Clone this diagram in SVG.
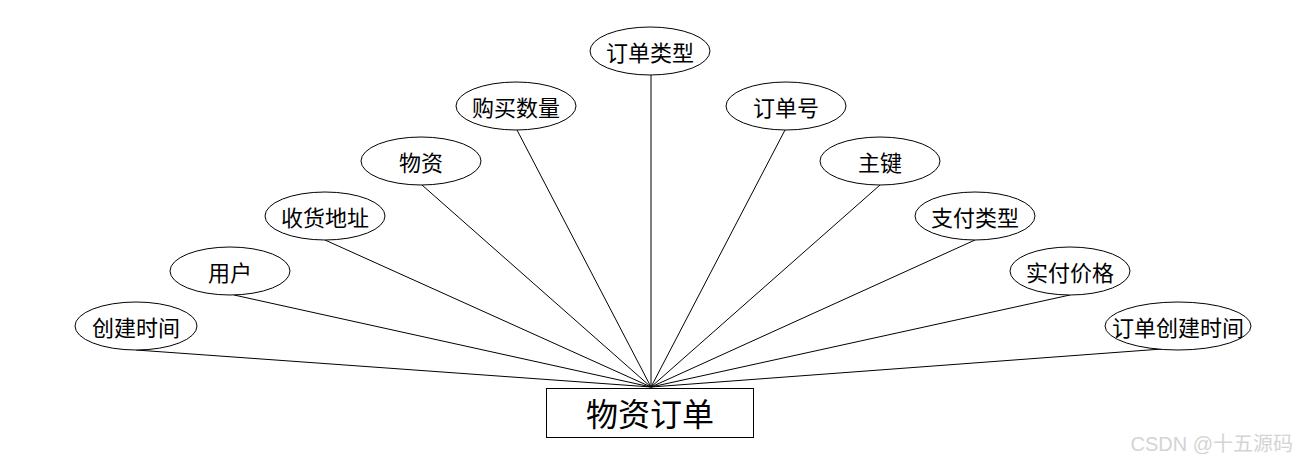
<svg xmlns="http://www.w3.org/2000/svg" width="1300" height="468" viewBox="0 0 1300 468">
<style>
.e{fill:#fff;stroke:#000;stroke-width:1}
.t{font-family:"Noto Sans CJK SC","Microsoft YaHei",sans-serif;font-size:22px;fill:#000;text-anchor:middle;dominant-baseline:central}
.c line{stroke:#000;stroke-width:1}
</style>
<rect width="1300" height="468" fill="#fff"/>
<g class="c" id="connectors">
<line x1="651" y1="387" x2="136" y2="350"/>
<line x1="651" y1="387" x2="234" y2="295"/>
<line x1="651" y1="387" x2="325" y2="240"/>
<line x1="651" y1="387" x2="422" y2="185"/>
<line x1="651" y1="387" x2="517" y2="130"/>
<line x1="651" y1="387" x2="651" y2="75"/>
<line x1="651" y1="387" x2="785" y2="130"/>
<line x1="651" y1="387" x2="880" y2="185"/>
<line x1="651" y1="387" x2="975" y2="240"/>
<line x1="651" y1="387" x2="1070" y2="295"/>
<line x1="651" y1="387" x2="1162" y2="349"/>
</g>
<g id="n0"><ellipse class="e" cx="136" cy="326" rx="61" ry="24"/><text class="t" x="136" y="326">创建时间</text></g>
<g id="n1"><ellipse class="e" cx="230" cy="271" rx="60" ry="24"/><text class="t" x="230" y="271">用户</text></g>
<g id="n2"><ellipse class="e" cx="325" cy="216" rx="60" ry="24"/><text class="t" x="325" y="216">收货地址</text></g>
<g id="n3"><ellipse class="e" cx="421" cy="161" rx="60" ry="24"/><text class="t" x="421" y="161">物资</text></g>
<g id="n4"><ellipse class="e" cx="516" cy="106" rx="60" ry="24"/><text class="t" x="516" y="106">购买数量</text></g>
<g id="n5"><ellipse class="e" cx="650" cy="51" rx="60" ry="24"/><text class="t" x="650" y="51">订单类型</text></g>
<g id="n6"><ellipse class="e" cx="786" cy="106" rx="60" ry="24"/><text class="t" x="786" y="106">订单号</text></g>
<g id="n7"><ellipse class="e" cx="880" cy="161" rx="60" ry="24"/><text class="t" x="880" y="161">主键</text></g>
<g id="n8"><ellipse class="e" cx="975" cy="216" rx="60" ry="24"/><text class="t" x="975" y="216">支付类型</text></g>
<g id="n9"><ellipse class="e" cx="1070" cy="271" rx="60" ry="24"/><text class="t" x="1070" y="271">实付价格</text></g>
<g id="n10"><ellipse class="e" cx="1178" cy="326" rx="73" ry="24"/><text class="t" x="1178" y="326">订单创建时间</text></g>
<g id="main"><rect x="546.5" y="388.5" width="207" height="49" fill="#fff" stroke="#000" stroke-width="1"/><text class="t" x="650" y="412" style="font-size:32px">物资订单</text></g>
<text x="1293" y="451" style="font-family:'Liberation Sans','Noto Sans CJK SC',sans-serif;font-size:20px;fill:#d4d4d4;text-anchor:end">CSDN @十五源码</text>
</svg>
